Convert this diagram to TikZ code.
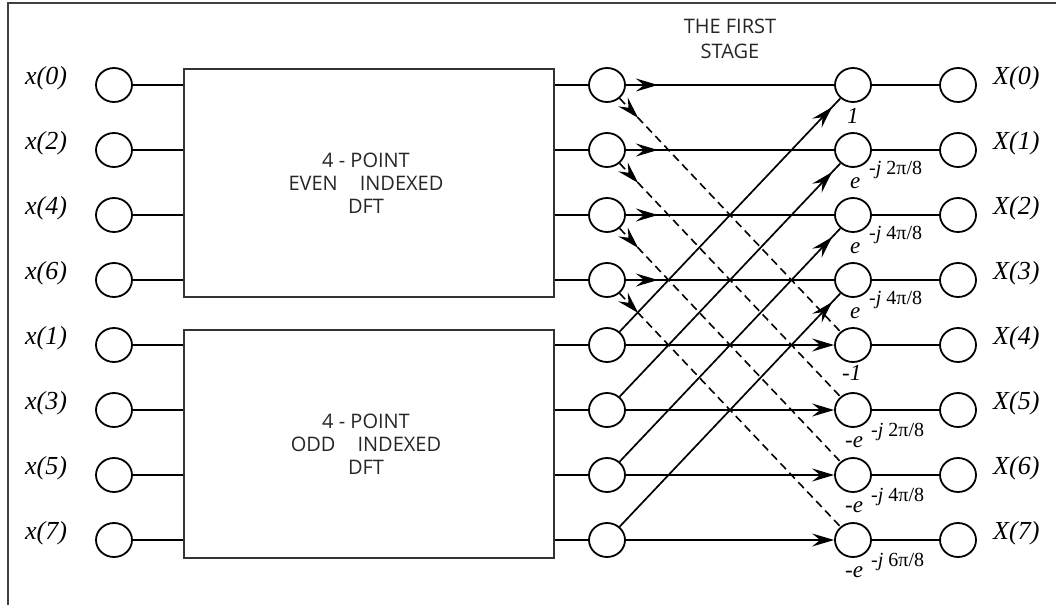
\documentclass[tikz,border=0pt]{standalone}
\usepackage{fontspec}
\setmainfont{Liberation Serif}
\newfontfamily\sansf{Open Sans}
\usetikzlibrary{shapes.geometric,arrows.meta,decorations.markings}
\tikzset{
  >={Stealth[length=22pt,width=13pt,inset=8pt]},
  nd/.style={draw, ellipse, minimum width=36pt, minimum height=34pt, inner sep=0pt, line width=1.8pt},
  ln/.style={line width=1.7pt},
  dsh/.style={line width=1.6pt, dash pattern=on 8pt off 5pt},
  blk/.style={draw=black!80, line width=1.6pt, minimum width=370pt, minimum height=228pt, inner sep=0pt},
  lab/.style={font=\fontsize{26}{26}\selectfont\itshape, inner sep=0pt, anchor=base west},
  tw/.style={font=\fontsize{23}{23}\selectfont\itshape, inner sep=0pt, anchor=base west},
  sup/.style={font=\fontsize{20}{20}\selectfont, inner sep=0pt, anchor=base west},
  btxt/.style={font=\sansf\fontsize{20}{23}\selectfont, align=center, text=black!85},
  markA/.style={postaction={decorate}, decoration={markings, mark=at position #1 with {\arrow{>}}}}
}
\begin{document}
\begin{tikzpicture}[x=1pt,y=-1pt]
\useasboundingbox (0,0) rectangle (1056,605);
\draw[line width=1.8pt, black!75] (8,605) -- (8,3) -- (1056,3);

\node[blk] (EB) at (369,183) {};
\node[btxt] at (366,183) {4 - POINT\\EVEN\hspace{1.1em}INDEXED\\DFT};
\node[blk] (OB) at (369,444) {};
\node[btxt] at (366,444) {4 - POINT\\ODD\hspace{1.1em}INDEXED\\DFT};

\node[btxt, font=\sansf\fontsize{20}{25}\selectfont] (title) at (730,39) {THE FIRST\\STAGE};

\foreach \i/\lab in {0/0,1/2,2/4,3/6,4/1,5/3,6/5,7/7} {
  \pgfmathsetmacro\yy{85+65*\i}
  \node[nd] (L\i) at (114,\yy) {};
  \node[nd] (M\i) at (607,\yy) {};
  \node[nd] (R\i) at (853,\yy) {};
  \node[nd] (Y\i) at (958,\yy) {};
  \node[lab] (lx\i) at (25,\yy-1) {x(\lab)};
  \node[lab] (lX\i) at (993,\yy-1) {X(\i)};
  \draw[ln] (R\i) -- (Y\i);
}
\foreach \i in {0,1,2,3} {
  \draw[ln] (L\i) -- (L\i -| EB.west);
  \draw[ln] (EB.east |- M\i) -- (M\i);
  \draw[ln, markA=32pt] (M\i) -- (R\i);
}
\foreach \i in {4,5,6,7} {
  \draw[ln] (L\i) -- (L\i -| OB.west);
  \draw[ln] (OB.east |- M\i) -- (M\i);
  \draw[ln, ->] (M\i) -- (R\i);
}
\foreach \a/\b in {0/4,1/5,2/6,3/7} {
  \draw[dsh, markA=27pt] (M\a) -- (R\b);
  \draw[ln, markA=-12pt] (M\b) -- (R\a);
}

% twiddle factors
\node[tw] (w0) at (847,123) {1};
\node[tw] (w1) at (850,188) {e};
\node[sup] (s1) at (869,174) {-{\itshape j} 2π/8};
\node[tw] (w2) at (850,253) {e};
\node[sup] (s2) at (869,239) {-{\itshape j} 4π/8};
\node[tw] (w3) at (850,318) {e};
\node[sup] (s3) at (869,304) {-{\itshape j} 4π/8};
\node[tw] (w4) at (842,380) {-1};
\node[tw] (w5) at (845,447) {-e};
\node[sup] (s5) at (871,436) {-{\itshape j} 2π/8};
\node[tw] (w6) at (845,512) {-e};
\node[sup] (s6) at (871,501) {-{\itshape j} 4π/8};
\node[tw] (w7) at (845,577) {-e};
\node[sup] (s7) at (871,566) {-{\itshape j} 6π/8};
\end{tikzpicture}
\end{document}
